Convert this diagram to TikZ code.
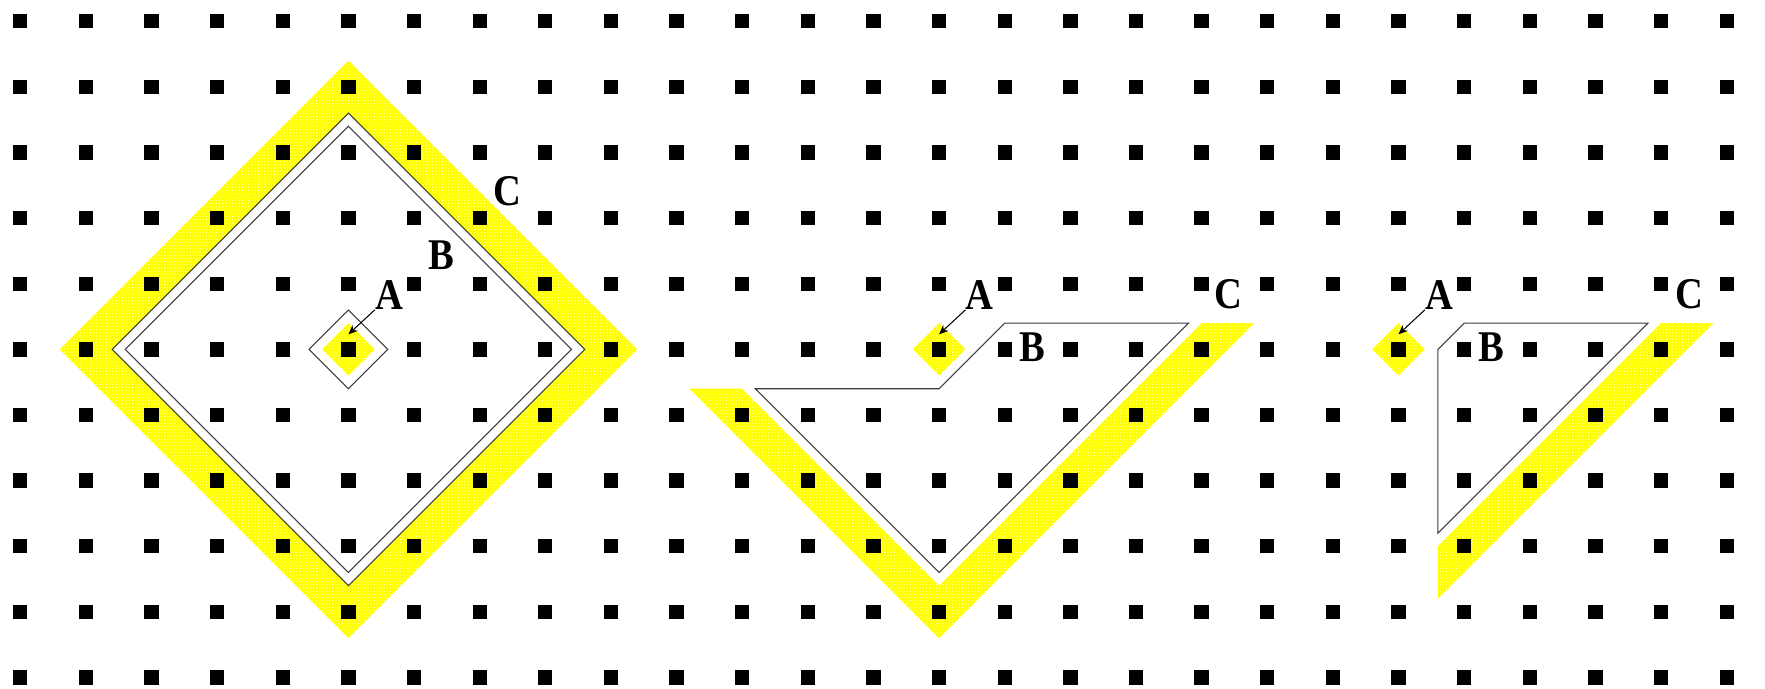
\documentclass[tikz,border=0pt]{standalone}
\usepackage{fontspec}
\setmainfont{Liberation Serif}
\usetikzlibrary{arrows.meta, patterns.meta}
\definecolor{bandyellow}{RGB}{255, 255, 0}
\definecolor{rimgray}{RGB}{60, 60, 60}

\begin{document}
\begin{tikzpicture}[
    >={Stealth[length=4pt, width=3.4pt]},
    peg/.style={fill=black},
    band/.style={fill=bandyellow, postaction={pattern={Dots[distance=1.4pt, radius=0.22pt]}, pattern color=white}},
    rim/.style={draw=rimgray, line width=0.45pt},
    letter/.style={font=\fontsize{19}{20}\selectfont\bfseries, inner sep=0pt, xscale=0.88},
    pointer/.style={->, line width=0.45pt}
]
\useasboundingbox (-0.309, 0.323) rectangle (26.584, -10.160);

% Yellow regions (A and C)
\fill[band, even odd rule] (0.6,-5) -- (5,-0.6) -- (9.4,-5) -- (5,-9.4) -- cycle
                           (1.4,-5) -- (5,-1.4) -- (8.6,-5) -- (5,-8.6) -- cycle;
\fill[band] (4.6,-5) -- (5,-4.6) -- (5.4,-5) -- (5,-5.4) -- cycle;

\fill[band] (10.2,-5.6) -- (11.0,-5.6) -- (14,-8.6) -- (18.0,-4.6) -- (18.8,-4.6) -- (14,-9.4) -- cycle;
\fill[band] (13.6,-5) -- (14,-4.6) -- (14.4,-5) -- (14,-5.4) -- cycle;

\fill[band] (21.6,-8.0) -- (25.0,-4.6) -- (25.8,-4.6) -- (21.6,-8.8) -- cycle;
\fill[band] (20.6,-5) -- (21,-4.6) -- (21.4,-5) -- (21,-5.4) -- cycle;

% Peg grid
\foreach \col in {0,...,26}
  \foreach \row in {0,...,10}
    \fill[peg] (\col-0.109, -\row-0.109) rectangle ++(0.218, 0.218);

% Region B outlines
\draw[rim] (1.4,-5) -- (5,-1.4) -- (8.6,-5) -- (5,-8.6) -- cycle;
\draw[rim] (1.6,-5) -- (5,-1.6) -- (8.4,-5) -- (5,-8.4) -- cycle;
\draw[rim] (4.4,-5) -- (5,-4.4) -- (5.6,-5) -- (5,-5.6) -- cycle;

\draw[rim] (11.2,-5.6) -- (14,-5.6) -- (15,-4.6) -- (17.8,-4.6) -- (14,-8.4) -- cycle;

\draw[rim] (21.6,-5) -- (22,-4.6) -- (24.8,-4.6) -- (21.6,-7.8) -- cycle;

% Labels
\node[letter] (lblA1) at (5.62, -4.17) {A};
\node[letter] (lblB1) at (6.41, -3.56) {B};
\node[letter] (lblC1) at (7.43, -2.59) {C};

\node[letter] (lblA2) at (14.62, -4.17) {A};
\node[letter] (lblB2) at (15.42, -4.96) {B};
\node[letter] (lblC2) at (18.41, -4.16) {C};

\node[letter] (lblA3) at (21.62, -4.17) {A};
\node[letter] (lblB3) at (22.42, -4.96) {B};
\node[letter] (lblC3) at (25.43, -4.16) {C};

% Pointers to A
\coordinate (tipA1) at (5, -4.77);
\coordinate (tipA2) at (14, -4.77);
\coordinate (tipA3) at (21, -4.77);
\draw[pointer] (lblA1.south west) -- (tipA1);
\draw[pointer] (lblA2.south west) -- (tipA2);
\draw[pointer] (lblA3.south west) -- (tipA3);

\end{tikzpicture}
\end{document}
